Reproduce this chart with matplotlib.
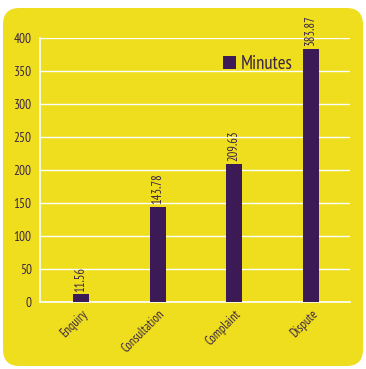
import matplotlib
matplotlib.use("Agg")
import matplotlib.pyplot as plt
from matplotlib.patches import FancyBboxPatch, Patch

categories = ["Enquiry", "Consultation", "Complaint", "Dispute"]
minutes = [11.56, 143.78, 209.63, 383.87]

YELLOW = "#EEDE1E"
PURPLE = "#3B1A56"
TEXT = "#3A2545"

plt.rcParams["font.family"] = ["PT Sans Narrow", "DejaVu Sans"]

W, H = 366, 369
fig = plt.figure(figsize=(W / 100, H / 100), dpi=100, facecolor="white")

# rounded yellow panel behind the chart
panel = FancyBboxPatch((3 / W, 3 / H), 360 / W, 358 / H,
                       boxstyle="round,pad=0,rounding_size=0.045",
                       transform=fig.transFigure, facecolor=YELLOW,
                       edgecolor="none", zorder=-10)
fig.patches.append(panel)

ax = fig.add_axes([40 / W, (H - 302) / H, 310 / W, 264 / H])
ax.set_facecolor("none")
ax.set_zorder(5)

x = range(len(categories))
bars = ax.bar(x, minutes, width=0.21, color=PURPLE, zorder=3)

for rect, v in zip(bars, minutes):
    ax.text(rect.get_x() + rect.get_width() / 2, v + 4, f"{v:.2f}",
            rotation=90, ha="center", va="bottom", fontsize=9,
            color=TEXT, zorder=4, clip_on=False)

ax.set_xlim(-0.535, 3.51)
ax.set_ylim(0, 400)
ax.set_yticks(range(0, 401, 50))
ax.yaxis.grid(True, color="white", linewidth=1.0, zorder=1)
ax.set_axisbelow(True)

for side in ("top", "right"):
    ax.spines[side].set_visible(False)
for side in ("left", "bottom"):
    ax.spines[side].set_color("white")
    ax.spines[side].set_linewidth(1.2)

ax.set_xticks(list(x))
ax.set_xticklabels(categories, rotation=45, ha="right", rotation_mode="anchor",
                   fontsize=9, color=TEXT)
ax.tick_params(axis="x", length=0, pad=4)
ax.tick_params(axis="y", length=0, pad=6, labelsize=9.5, labelcolor=TEXT)

ax.legend(handles=[Patch(facecolor=PURPLE, label="Minutes")],
          loc="upper left", bbox_to_anchor=(0.535, 1.0), frameon=False,
          fontsize=13.5, handlelength=0.7, handleheight=0.7,
          handletextpad=0.25, labelcolor=TEXT)

fig.savefig("out.png", dpi=100, facecolor="white")
